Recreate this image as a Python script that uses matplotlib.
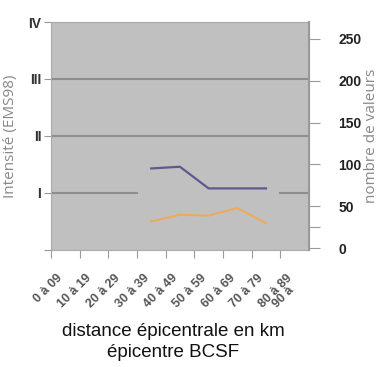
import numpy as np
import matplotlib
matplotlib.use("Agg")
import matplotlib.pyplot as plt

# categories (distance bands) and series
categories = ["0 à 09", "10 à 19", "20 à 29", "30 à 39", "40 à 49",
              "50 à 59", "60 à 69", "70 à 79", "80 à 89", "90 à"]
intensity_idx = [3, 4, 5, 6, 7]
intensity = [1.43, 1.46, 1.08, 1.08, 1.08]
count_idx = [3, 4, 5, 6, 7]
counts = [32, 40, 39, 48, 30]

int_ticks = [0, 1, 2, 3, 4]
int_labels = ["", "I", "II", "III", "IV"]
count_ticks = [0, 25, 50, 100, 150, 200, 250]
count_labels = ["0", "", "50", "100", "150", "200", "250"]

plt.rcParams["font.family"] = ["Liberation Sans", "DejaVu Sans"]
narrow = ["Liberation Sans Narrow", "Liberation Sans", "DejaVu Sans"]

fig = plt.figure(figsize=(3.8, 3.67), dpi=100)
ax = fig.add_axes([0.134, 0.319, 0.679, 0.621])
ax.set_facecolor("#c0c0c0")
n_shown = len(categories) - 1
ax.set_xlim(-0.5, n_shown - 0.5)
ax.set_ylim(0, 4)

# horizontal grid: I line has a gap behind the data
grid_col = "#8e8e8e"
for lvl in int_ticks[2:4]:
    ax.axhline(lvl, color=grid_col, lw=1.5, zorder=1)
ax.plot([-0.5, 2.5], [1, 1], color=grid_col, lw=1.5, zorder=1)
ax.plot([7.5, n_shown - 0.5], [1, 1], color=grid_col, lw=1.5, zorder=1)

ax.plot(intensity_idx, intensity, color="#5c5a8c", lw=1.6, zorder=3)

# x axis: ticks at band edges, labels rotated; last band is cut at the edge
ax.set_xticks(np.arange(-0.5, n_shown, 1.0), minor=True)
ax.set_xticks(list(range(n_shown)) + [n_shown - 0.5])
xlabels = categories[:-1] + [categories[-1] + "     "]
ax.set_xticklabels(xlabels, rotation=45, ha="right", va="top",
                   fontsize=9, fontweight="bold", color="#555555",
                   family=narrow)
ax.tick_params(axis="x", which="major", length=0, pad=16)
ax.tick_params(axis="x", which="minor", length=6, color="#999999", width=0.8)

ax.set_yticks(int_ticks)
ax.set_yticklabels(int_labels, fontsize=10, fontweight="bold", color="#333333",
                   family=narrow)
ax.tick_params(axis="y", length=5, color="#999999", width=0.8, pad=2)
ax.set_ylabel("Intensité (EMS98)", fontsize=11, color="#888888",
              labelpad=7, family="Open Sans")

for s in ax.spines.values():
    s.set_color("#aaaaaa")

ax2 = ax.twinx()
ax2.set_ylim(-2, 270)
ax2.plot(count_idx, counts, color="#f0aa55", lw=1.4, zorder=3)
ax2.set_yticks(count_ticks)
ax2.set_yticklabels(count_labels, fontsize=10, color="#222222",
                    fontweight="bold", family=narrow)
ax2.tick_params(axis="y", length=8, color="#999999", width=0.8, pad=13)
ax2.set_ylabel("nombre de valeurs", fontsize=11, color="#888888",
               labelpad=2, family="Open Sans")
for s in ax2.spines.values():
    s.set_visible(False)
ax2.spines["right"].set_visible(True)
ax2.spines["right"].set_color("#999999")
ax2.spines["right"].set_linewidth(1.5)

fig.text(0.455, 0.068, "distance épicentrale en km\népicentre BCSF",
         ha="center", va="center", fontsize=13.5, color="#111111",
         linespacing=1.35)

fig.savefig("out.png", dpi=100, facecolor="white")
